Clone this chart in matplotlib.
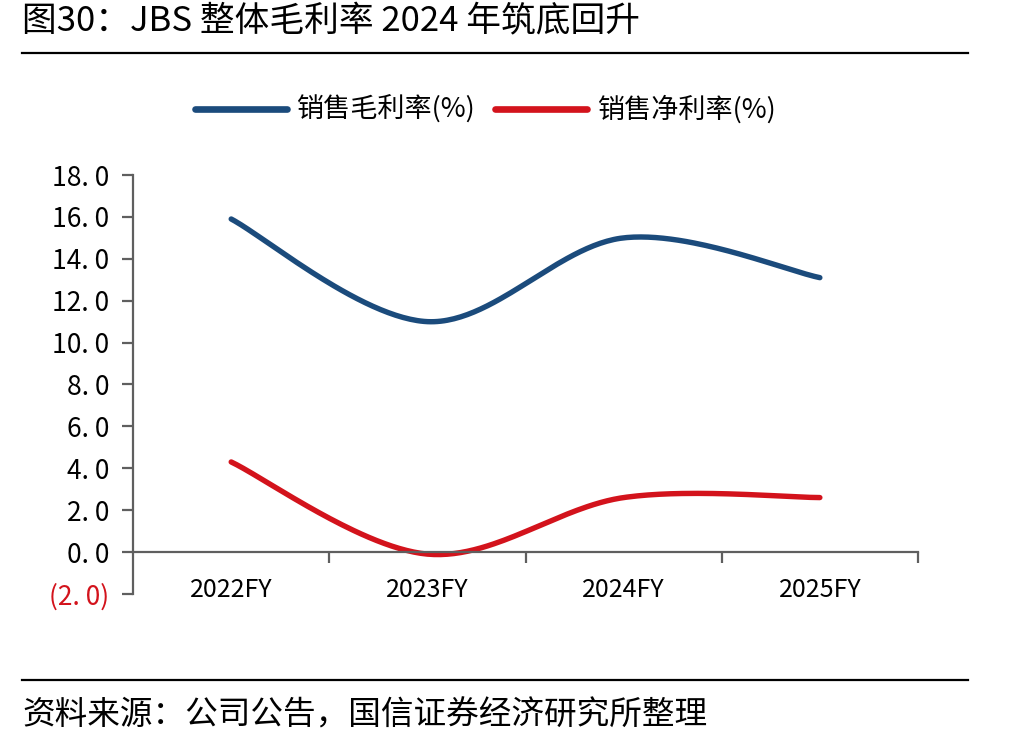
import numpy as np
import matplotlib.pyplot as plt
from matplotlib.ticker import FixedLocator, NullFormatter

plt.rcParams['font.family'] = ['Noto Sans CJK SC', 'DejaVu Sans']

# data
years = ['2022FY', '2023FY', '2024FY', '2025FY']
gross_margin = [15.9, 11.0, 15.0, 13.1]
net_margin = [4.3, -0.1, 2.6, 2.6]
y_ticks = [-2, 0, 2, 4, 6, 8, 10, 12, 14, 16, 18]

blue = '#1B4B7C'
red = '#D3131C'
axis_grey = '#5f5f5f'


def smooth(xs, ys, n=60):
    # Excel-style smoothed line: Catmull-Rom segments drawn as cubic Bezier
    xs = np.asarray(xs, float)
    ys = np.asarray(ys, float)
    px = np.concatenate([[xs[0]], xs, [xs[-1]]])
    py = np.concatenate([[ys[0]], ys, [ys[-1]]])
    t = np.linspace(0, 1, n)
    out_x, out_y = [], []
    for i in range(1, len(px) - 2):
        b0 = np.array([px[i], py[i]])
        b3 = np.array([px[i + 1], py[i + 1]])
        b1 = b0 + (np.array([px[i + 1], py[i + 1]]) - np.array([px[i - 1], py[i - 1]])) / 6
        b2 = b3 - (np.array([px[i + 2], py[i + 2]]) - np.array([px[i], py[i]])) / 6
        c = ((1 - t) ** 3)[:, None] * b0 + (3 * (1 - t) ** 2 * t)[:, None] * b1 \
            + (3 * (1 - t) * t ** 2)[:, None] * b2 + (t ** 3)[:, None] * b3
        out_x.extend(c[:, 0])
        out_y.extend(c[:, 1])
    return out_x, out_y


def fmt(v):
    s = '%.1f' % abs(v)
    s = s.replace('.', '. ')
    return '(%s)' % s if v < 0 else s


fig = plt.figure(figsize=(10.16, 7.48), dpi=100)
ax = fig.add_axes([0.131, 0.206, 0.7725, 0.560])

x = np.arange(len(years))
sx, sy = smooth(x, gross_margin)
ax.plot(sx, sy, color=blue, lw=3.9, solid_capstyle='round', label='销售毛利率(%)')
sx, sy = smooth(x, net_margin)
ax.plot(sx, sy, color=red, lw=3.9, solid_capstyle='round', label='销售净利率(%)')

ax.set_xlim(-0.5, 3.5)
ax.set_ylim(-2, 18)

for s in ['top', 'right']:
    ax.spines[s].set_visible(False)
ax.spines['left'].set_color(axis_grey)
ax.spines['left'].set_linewidth(1.6)
ax.spines['bottom'].set_position(('data', 0))
ax.spines['bottom'].set_color(axis_grey)
ax.spines['bottom'].set_linewidth(1.6)

ax.set_yticks(y_ticks)
ax.set_yticklabels([fmt(v) for v in y_ticks])
ax.tick_params(axis='y', direction='out', length=8, width=1.6, color=axis_grey,
               pad=9, labelsize=19)
for lbl, v in zip(ax.get_yticklabels(), y_ticks):
    if v < 0:
        lbl.set_color(red)

ax.set_xticks(x)
ax.set_xticklabels(years)
ax.xaxis.set_minor_locator(FixedLocator([0.5, 1.5, 2.5, 3.5]))
ax.xaxis.set_minor_formatter(NullFormatter())
ax.tick_params(axis='x', which='major', length=0, pad=18, labelsize=18)
ax.tick_params(axis='x', which='minor', direction='out', length=8, width=1.6,
               color=axis_grey)

leg = fig.legend(loc='center', bbox_to_anchor=(0.478, 0.853), ncol=2, frameon=False,
                 fontsize=19.5, handlelength=3.4, handletextpad=0.4, columnspacing=0.7)
for h in leg.get_lines():
    h.set_linewidth(4.8)

fig.text(0.022, 0.971, '图30：JBS 整体毛利率 2024 年筑底回升', fontsize=25, va='center')
fig.add_artist(plt.Line2D([0.022, 0.953], [0.929, 0.929], color='black', lw=1.6))
fig.add_artist(plt.Line2D([0.022, 0.953], [0.091, 0.091], color='black', lw=1.6))
fig.text(0.022, 0.043, '资料来源：公司公告，国信证券经济研究所整理', fontsize=23.5, va='center')

fig.savefig('out.png', dpi=100)
